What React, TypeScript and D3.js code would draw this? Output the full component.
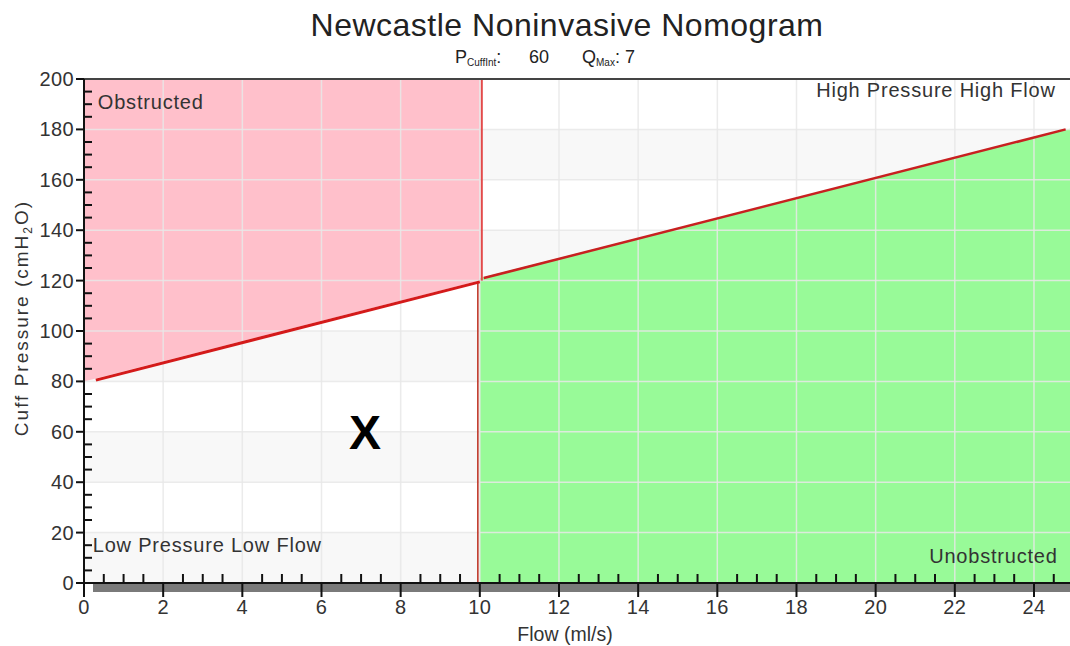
import React, { useEffect, useRef } from 'react';
import * as d3 from 'd3';

// axis ticks
const xMajorTicks = [0, 2, 4, 6, 8, 10, 12, 14, 16, 18, 20, 22, 24];
const yMajorTicks = [0, 20, 40, 60, 80, 100, 120, 140, 160, 180, 200];
// alternating background bands (lower, upper pressure)
const bands = [[0, 20], [40, 60], [80, 100], [120, 140], [160, 180]];

// shaded zones: [flow, pressure]
const obstructedZone = [[0, 80], [10, 120], [10, 200], [0, 200]];
const unobstructedZone = [[10, 0], [10, 121], [24.91, 180.3], [24.91, 0]];

// red boundary lines
const lowerBoundary = [[0.3, 80.5], [10, 119.5]];
const upperBoundary = [[10.1, 121], [24.8, 180]];
const splitUpper = [[10.05, 200], [10.05, 120]];
const splitLower = [[9.95, 119.5], [9.95, 0]];

const zoneLabels = [
  { text: 'Obstructed', flow: 0.35, pressure: 188, anchor: 'start' },
  { text: 'High Pressure High Flow', flow: 24.55, pressure: 193, anchor: 'end' },
  { text: 'Low Pressure Low Flow', flow: 0.22, pressure: 12.5, anchor: 'start' },
  { text: 'Unobstructed', flow: 24.6, pressure: 8, anchor: 'end' },
];

const marker = { flow: 7.1, pressure: 60 };
const cuffInt = 60;
const qMax = 7;

const W = 1070;
const H = 646;
const FONT = '"Liberation Sans", Arial, sans-serif';

const App = () => {
  const svgRef = useRef<SVGSVGElement | null>(null);

  useEffect(() => {
    if (!svgRef.current) return;
    const svg = d3.select(svgRef.current);
    svg.selectAll('*').remove();

    const x = d3.scaleLinear().domain([0, 24.91]).range([84, 1070]);
    const y = d3.scaleLinear().domain([0, 200]).range([583, 79]);
    const left = x(0), right = x(24.91), top = y(200), bottom = y(0);

    // background bands
    svg.append('rect').attr('x', left).attr('y', top)
      .attr('width', right - left).attr('height', bottom - top).attr('fill', '#fff');
    svg.selectAll('.band').data(bands).join('rect')
      .attr('x', left).attr('width', right - left)
      .attr('y', d => y(d[1])).attr('height', d => y(d[0]) - y(d[1]))
      .attr('fill', '#f8f8f8');

    const line = d3.line<number[]>().x(d => x(d[0])).y(d => y(d[1]));

    svg.append('path').attr('d', line(obstructedZone) + 'Z').attr('fill', '#ffc0cb');
    svg.append('path').attr('d', line(unobstructedZone) + 'Z').attr('fill', '#98fa98');

    // grid
    const grid = svg.append('g').attr('stroke', 'rgba(232,232,232,0.85)').attr('stroke-width', 1.5);
    xMajorTicks.filter(t => t > 0).forEach(t => {
      grid.append('line').attr('x1', x(t)).attr('x2', x(t)).attr('y1', top).attr('y2', bottom);
    });
    yMajorTicks.filter(t => t > 0 && t < 200).forEach(t => {
      grid.append('line').attr('x1', left).attr('x2', right).attr('y1', y(t)).attr('y2', y(t));
    });

    // boundaries
    svg.append('path').attr('d', line(splitUpper)).attr('stroke', '#e34a4a').attr('stroke-width', 2).attr('fill', 'none');
    svg.append('path').attr('d', line(splitLower)).attr('stroke', '#c0392b').attr('stroke-width', 1.6).attr('fill', 'none');
    svg.append('path').attr('d', line(lowerBoundary)).attr('stroke', '#d41a1a').attr('stroke-width', 3).attr('fill', 'none');
    svg.append('path').attr('d', line(upperBoundary)).attr('stroke', '#c82020').attr('stroke-width', 2.5).attr('fill', 'none');

    // zone labels
    svg.selectAll('.zl').data(zoneLabels).join('text')
      .attr('x', d => x(d.flow)).attr('y', d => y(d.pressure))
      .attr('text-anchor', d => d.anchor)
      .attr('font-family', FONT).attr('font-size', 20).attr('letter-spacing', 0.8).attr('fill', '#333')
      .text(d => d.text);

    svg.append('text').attr('x', x(marker.flow)).attr('y', y(marker.pressure) + 17)
      .attr('text-anchor', 'middle').attr('font-family', FONT).attr('font-weight', 'bold')
      .attr('font-size', 48).attr('fill', '#000').text('X');

    // top border
    svg.append('line').attr('x1', left).attr('x2', right).attr('y1', top).attr('y2', top)
      .attr('stroke', '#444').attr('stroke-width', 2);

    // x axis
    svg.append('rect').attr('x', 93).attr('y', bottom + 1).attr('width', right - 93).attr('height', 8).attr('fill', '#7a7a7a');
    svg.append('line').attr('x1', left).attr('x2', right).attr('y1', bottom).attr('y2', bottom)
      .attr('stroke', '#111').attr('stroke-width', 2);
    const xAxis = svg.append('g').attr('stroke', '#111').attr('stroke-width', 2);
    xMajorTicks.forEach(t => {
      xAxis.append('line').attr('x1', x(t)).attr('x2', x(t)).attr('y1', bottom).attr('y2', bottom + 14);
      [0.5, 1, 1.5].forEach(m => {
        if (t + m < 24.91) xAxis.append('line').attr('x1', x(t + m)).attr('x2', x(t + m)).attr('y1', bottom).attr('y2', bottom - 9);
      });
    });
    svg.selectAll('.xt').data(xMajorTicks).join('text')
      .attr('x', d => x(d)).attr('y', 614).attr('text-anchor', 'middle')
      .attr('font-family', FONT).attr('font-size', 20).attr('letter-spacing', 0.4).attr('fill', '#333').text(d => d);

    // y axis
    const yAxis = svg.append('g').attr('stroke', '#111').attr('stroke-width', 2);
    yAxis.append('line').attr('x1', left).attr('x2', left).attr('y1', top).attr('y2', bottom + 14);
    yMajorTicks.forEach(t => {
      yAxis.append('line').attr('x1', left - 8).attr('x2', left).attr('y1', y(t)).attr('y2', y(t));
      [5, 10, 15].forEach(m => {
        if (t + m < 200) yAxis.append('line').attr('x1', left).attr('x2', left + 8).attr('y1', y(t + m)).attr('y2', y(t + m));
      });
    });
    svg.selectAll('.yt').data(yMajorTicks).join('text')
      .attr('x', 74).attr('y', d => y(d) + 7).attr('text-anchor', 'end')
      .attr('font-family', FONT).attr('font-size', 20).attr('letter-spacing', 0.4).attr('fill', '#333').text(d => d);

    // axis titles
    svg.append('text').attr('x', 565).attr('y', 641).attr('text-anchor', 'middle')
      .attr('font-family', FONT).attr('font-size', 19.5).attr('fill', '#333').text('Flow (ml/s)');
    const yt = svg.append('text').attr('transform', 'translate(28,318) rotate(-90)').attr('text-anchor', 'middle')
      .attr('font-family', FONT).attr('font-size', 19).attr('letter-spacing', 2).attr('fill', '#333');
    yt.append('tspan').text('Cuff Pressure (cmH');
    yt.append('tspan').attr('font-size', 12).attr('dy', 4).text('2');
    yt.append('tspan').attr('dy', -4).text('O)');

    // title
    svg.append('text').attr('x', 567).attr('y', 36).attr('text-anchor', 'middle')
      .attr('font-family', FONT).attr('font-size', 32).attr('letter-spacing', 0.5).attr('fill', '#222')
      .text('Newcastle Noninvasive Nomogram');
    const sub = svg.append('g').attr('font-family', FONT).attr('font-size', 18).attr('fill', '#222');
    const p = sub.append('text').attr('x', 455).attr('y', 63);
    p.append('tspan').text('P');
    p.append('tspan').attr('font-size', 10).attr('dy', 3).text('CuffInt');
    p.append('tspan').attr('dy', -3).text(':');
    sub.append('text').attr('x', 529).attr('y', 63).text(cuffInt);
    const q = sub.append('text').attr('x', 582).attr('y', 63);
    q.append('tspan').text('Q');
    q.append('tspan').attr('font-size', 10).attr('dy', 3).text('Max');
    q.append('tspan').attr('dy', -3).text(': ' + qMax);
  }, []);

  return (
    <svg ref={svgRef} width={W} height={H}
      style={{ position: 'absolute', left: 0, top: 0, display: 'block', background: '#fff' }} />
  );
};

export default App;
